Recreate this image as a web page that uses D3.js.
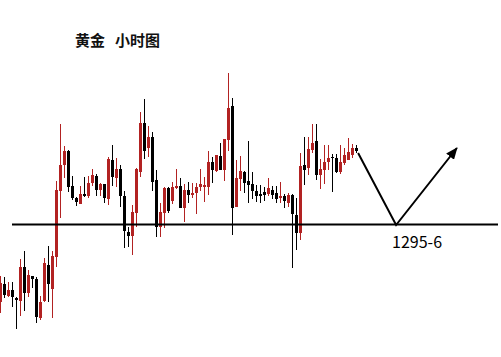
<!DOCTYPE html>
<html lang="zh">
<head>
  <meta charset="UTF-8">
  <title>黄金 小时图</title>
  <script src="https://cdn.jsdelivr.net/npm/d3@7/dist/d3.min.js"></script>
  <style>
    html, body { margin: 0; padding: 0; background: #fff; }
    svg { display: block; }
  </style>
</head>
<body>

  <script>
    ((window, document) => {
      "use strict";

      /**
       * -----------------------------------------------------------------------
       *  Data (hourly candles)
       * -----------------------------------------------------------------------
       */

      const open = [
        1287.8, 1289.6, 1288.4, 1289.0, 1288.2, 1287.9, 1291.3, 1288.7, 1290.4, 1290.1,
        1286.2, 1287.9, 1291.5, 1289.1, 1292.3, 1298.9, 1301.5, 1302.9, 1299.4, 1298.2,
        1297.6, 1298.6, 1298.4, 1299.7, 1300.4, 1299.0, 1299.6, 1298.1, 1302.0, 1300.2,
        1301.1, 1298.4, 1294.8, 1294.4, 1296.7, 1300.8, 1305.7, 1303.2, 1304.3, 1300.0,
        1295.3, 1296.7, 1299.2, 1297.9, 1299.2, 1299.4, 1297.2, 1299.0, 1298.5, 1298.7,
        1299.3, 1299.3, 1299.3, 1301.8, 1300.9, 1302.4, 1301.0, 1304.0, 1307.4, 1297.3,
        1300.1, 1300.8, 1299.9, 1299.6, 1298.9, 1298.6, 1298.8, 1298.6, 1299.0, 1298.7,
        1298.2, 1298.4, 1297.7, 1298.5, 1296.5, 1294.7, 1301.5, 1301.2, 1303.0, 1303.9,
        1300.5, 1301.0, 1301.8, 1302.3, 1302.2, 1300.8, 1301.7, 1302.0, 1302.5, 1303.2
      ];
      const high = [
        1290.4, 1290.3, 1289.8, 1289.8, 1288.3, 1292.1, 1292.9, 1291.0, 1290.4, 1290.3,
        1288.4, 1292.2, 1293.4, 1292.9, 1299.9, 1305.6, 1303.4, 1303.0, 1300.4, 1298.3,
        1299.4, 1300.3, 1300.4, 1301.1, 1300.6, 1299.7, 1299.6, 1302.3, 1303.5, 1302.2,
        1301.5, 1298.9, 1295.3, 1297.5, 1301.2, 1306.8, 1308.1, 1305.4, 1304.8, 1301.0,
        1297.7, 1299.3, 1299.3, 1299.8, 1301.1, 1300.2, 1299.6, 1299.8, 1299.7, 1299.7,
        1301.1, 1300.3, 1302.9, 1302.3, 1302.5, 1303.7, 1304.1, 1310.7, 1308.2, 1302.0,
        1302.4, 1300.9, 1303.9, 1300.8, 1299.5, 1299.5, 1299.3, 1300.2, 1299.4, 1299.4,
        1299.8, 1298.6, 1298.7, 1298.6, 1298.2, 1302.7, 1304.3, 1304.3, 1305.6, 1305.6,
        1302.1, 1303.5, 1303.5, 1302.6, 1302.6, 1303.5, 1303.2, 1304.2, 1303.6, 1303.5
      ];
      const low = [
        1286.7, 1288.2, 1288.3, 1287.3, 1285.1, 1286.4, 1286.9, 1288.3, 1289.2, 1285.7,
        1286.0, 1287.8, 1287.8, 1286.2, 1291.3, 1296.2, 1300.2, 1298.8, 1298.0, 1297.4,
        1297.6, 1298.3, 1298.2, 1299.4, 1298.4, 1298.4, 1297.7, 1297.5, 1299.4, 1299.3,
        1297.3, 1293.2, 1293.3, 1292.5, 1295.3, 1300.3, 1302.1, 1302.3, 1298.9, 1294.3,
        1294.3, 1295.2, 1296.7, 1297.6, 1299.1, 1297.2, 1295.8, 1297.7, 1298.2, 1296.6,
        1298.9, 1297.8, 1298.5, 1299.7, 1300.8, 1301.0, 1299.9, 1302.9, 1294.5, 1297.3,
        1298.9, 1298.7, 1297.7, 1298.1, 1297.8, 1297.7, 1297.9, 1298.4, 1298.1, 1297.7,
        1297.7, 1297.2, 1297.3, 1291.2, 1293.0, 1294.0, 1299.5, 1300.5, 1302.7, 1300.0,
        1299.1, 1299.6, 1301.0, 1298.8, 1300.7, 1300.6, 1301.5, 1302.0, 1302.2, 1302.7
      ];
      const close = [
        1289.7, 1288.5, 1289.0, 1288.3, 1288.0, 1291.3, 1288.7, 1290.5, 1290.1, 1286.3,
        1287.8, 1291.7, 1289.6, 1292.4, 1299.0, 1301.5, 1302.9, 1299.3, 1298.2, 1297.8,
        1298.6, 1298.4, 1299.7, 1300.5, 1299.0, 1299.6, 1298.2, 1302.1, 1300.3, 1301.1,
        1298.4, 1294.9, 1294.4, 1296.8, 1301.1, 1305.7, 1302.9, 1304.3, 1299.8, 1295.3,
        1296.8, 1299.2, 1296.9, 1299.3, 1299.4, 1297.2, 1299.0, 1298.5, 1298.7, 1299.3,
        1299.6, 1299.5, 1301.8, 1301.0, 1302.5, 1301.0, 1304.1, 1307.2, 1297.2, 1300.2,
        1300.9, 1299.7, 1299.5, 1298.9, 1298.4, 1298.4, 1298.5, 1299.2, 1298.5, 1298.1,
        1298.4, 1297.9, 1298.5, 1296.6, 1294.7, 1301.4, 1301.0, 1303.1, 1303.7, 1300.5,
        1301.1, 1301.8, 1302.2, 1302.2, 1300.8, 1301.8, 1302.5, 1302.8, 1303.2, 1302.9
      ];

      // Support level and the projected path: [bar index, price]
      const supportPrice = 1295.55;
      const supportLabel = "1295-6";
      const projection = [[89.4, 1302.7], [98.9, 1295.5], [114.1, 1303.2]];

      const title = ["黄金", "小时图"];


      /**
       * -----------------------------------------------------------------------
       *  Render
       * -----------------------------------------------------------------------
       */

      const width = 501, height = 357;
      const up = "#b22222", down = "#000";

      const candles = open.map((o, i) => ({ i, o, h: high[i], l: low[i], c: close[i] }));

      const x = d3.scaleLinear().domain([0, 1]).range([0.5, 4.5]);
      const y = d3.scaleLinear().domain([1285, 1315]).range([330, 30]);

      const svg = d3.select("body").append("svg")
        .attr("width", width)
        .attr("height", height);

      svg.append("defs").append("marker")
          .attr("id", "head")
          .attr("viewBox", "0 0 12 10")
          .attr("refX", 11)
          .attr("refY", 5)
          .attr("markerUnits", "userSpaceOnUse")
          .attr("markerWidth", 12)
          .attr("markerHeight", 10)
          .attr("orient", "auto")
        .append("path")
          .attr("d", "M0,0 L12,5 L0,10 Z")
          .attr("fill", "#000");

      const g = svg.selectAll("g.candle")
        .data(candles)
        .enter().append("g")
          .attr("class", "candle");

      g.append("line")
          .attr("x1", d => x(d.i))
          .attr("x2", d => x(d.i))
          .attr("y1", d => y(d.h))
          .attr("y2", d => y(d.l))
          .attr("stroke", d => d.c >= d.o ? up : down)
          .attr("stroke-width", 1);

      g.append("rect")
          .attr("x", d => x(d.i) - 1.5)
          .attr("width", 3)
          .attr("y", d => y(Math.max(d.o, d.c)))
          .attr("height", d => Math.max(1, Math.abs(y(d.o) - y(d.c))))
          .attr("fill", d => d.c >= d.o ? up : down);

      // support line
      svg.append("line")
          .attr("x1", 12)
          .attr("x2", 498)
          .attr("y1", y(supportPrice))
          .attr("y2", y(supportPrice))
          .attr("stroke", "#000")
          .attr("stroke-width", 2);

      // projected V path
      svg.append("path")
          .attr("d", d3.line().x(d => x(d[0])).y(d => y(d[1]))(projection))
          .attr("fill", "none")
          .attr("stroke", "#000")
          .attr("stroke-width", 2)
          .attr("marker-end", "url(#head)");

      svg.append("text")
          .attr("x", x(projection[1][0]) - 4)
          .attr("y", 248)
          .attr("font-family", "'Noto Sans CJK SC', sans-serif")
          .attr("font-size", 16)
          .attr("fill", "#000")
          .text(supportLabel);

      const t = svg.append("text")
          .attr("x", 75)
          .attr("y", 46)
          .attr("font-family", "'Noto Sans CJK SC', sans-serif")
          .attr("font-size", 15)
          .attr("font-weight", "bold")
          .attr("fill", "#111");
      t.append("tspan").text(title[0]);
      t.append("tspan").attr("dx", 10).text(title[1]);

    })(window, document);
  </script>

</body>
</html>
